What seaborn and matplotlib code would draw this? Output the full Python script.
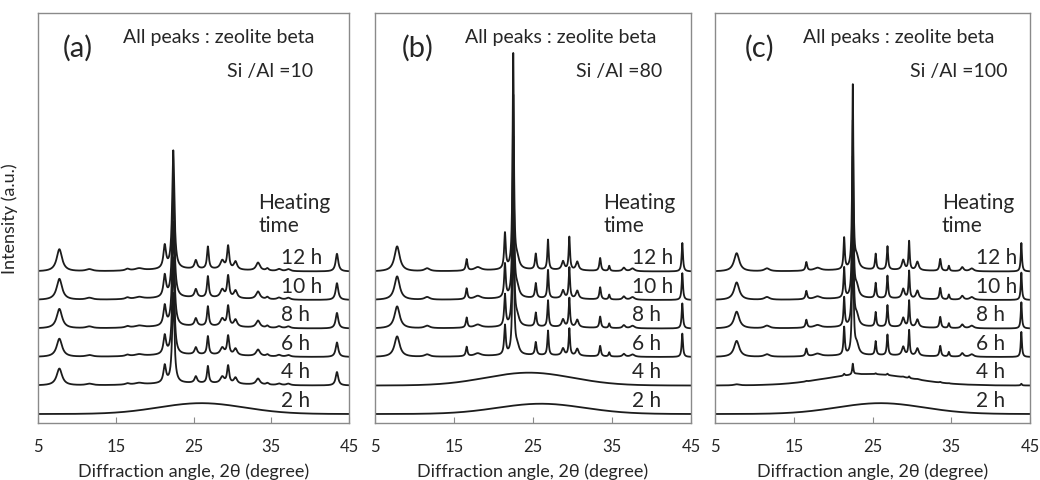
import numpy as np
import pandas as pd
import seaborn as sns
import matplotlib.pyplot as plt

#%% values

times = ["2 h", "4 h", "6 h", "8 h", "10 h", "12 h"]
offsets = [0, 1, 2, 3, 4, 5]

letters = ["(a)", "(b)", "(c)"]
ratios = ["Si /Al =10", "Si /Al =80", "Si /Al =100"]

# zeolite beta reflections: position (deg), height (a.u.), half width (deg)
peaks_a_pos = [7.75, 11.6, 16.5, 18.0, 21.3, 22.4, 25.3, 26.85, 28.7, 29.45, 30.4, 33.3, 34.5, 36.0, 37.2, 43.45]
peaks_a_height = [0.78, 0.07, 0.06, 0.07, 0.8, 4.15, 0.3, 0.78, 0.3, 0.8, 0.28, 0.28, 0.08, 0.07, 0.07, 0.62]
peaks_a_hwhm = [0.42, 0.5, 0.3, 0.6, 0.2, 0.17, 0.2, 0.14, 0.3, 0.16, 0.25, 0.3, 0.2, 0.3, 0.3, 0.2]

peaks_b_pos = [7.8, 11.6, 16.6, 18.0, 21.45, 22.5, 23.0, 25.35, 26.9, 28.8, 29.6, 30.6, 33.5, 34.65, 36.5, 37.6, 43.9]
peaks_b_height = [0.88, 0.1, 0.4, 0.12, 1.25, 7.5, 0.35, 0.55, 1.05, 0.3, 1.15, 0.3, 0.45, 0.18, 0.12, 0.1, 1.0]
peaks_b_hwhm = [0.4, 0.4, 0.12, 0.5, 0.12, 0.1, 0.3, 0.12, 0.1, 0.2, 0.1, 0.2, 0.12, 0.1, 0.2, 0.3, 0.1]

peaks_c_pos = [7.75, 11.6, 16.6, 18.0, 21.4, 22.5, 23.0, 25.4, 26.9, 28.9, 29.65, 30.7, 33.6, 34.7, 36.4, 37.6, 43.9]
peaks_c_height = [0.64, 0.1, 0.3, 0.1, 1.1, 6.4, 0.4, 0.55, 0.82, 0.35, 1.0, 0.3, 0.42, 0.18, 0.14, 0.1, 1.0]
peaks_c_hwhm = [0.4, 0.4, 0.12, 0.5, 0.1, 0.09, 0.3, 0.1, 0.1, 0.2, 0.09, 0.2, 0.12, 0.1, 0.2, 0.3, 0.09]

# how far each run has crystallised (2 h ... 12 h)
cryst_a = [0.0, 0.76, 0.82, 0.88, 0.95, 1.0]
cryst_b = [0.0, 0.0, 0.82, 0.88, 0.94, 1.0]
cryst_c = [0.0, 0.06, 0.88, 0.92, 0.96, 1.0]

# broad amorphous hump: amplitude and centre (deg)
hump_a_amp = [0.38, 0.08, 0.08, 0.08, 0.08, 0.08]
hump_a_center = [26.0, 25.0, 25.0, 25.0, 25.0, 25.0]
hump_b_amp = [0.36, 0.45, 0.06, 0.06, 0.06, 0.06]
hump_b_center = [26.0, 24.5, 25.0, 25.0, 25.0, 25.0]
hump_c_amp = [0.38, 0.4, 0.06, 0.06, 0.06, 0.06]
hump_c_center = [26.0, 24.5, 25.0, 25.0, 25.0, 25.0]

panels = [
    (peaks_a_pos, peaks_a_height, peaks_a_hwhm, cryst_a, hump_a_amp, hump_a_center),
    (peaks_b_pos, peaks_b_height, peaks_b_hwhm, cryst_b, hump_b_amp, hump_b_center),
    (peaks_c_pos, peaks_c_height, peaks_c_hwhm, cryst_c, hump_c_amp, hump_c_center),
]

#%% build traces

two_theta = np.linspace(5, 45, 2401)


def pattern(pos, height, hwhm, cryst, amp, center, offset):
    y = np.full_like(two_theta, float(offset))
    y += amp * np.exp(-0.5 * ((two_theta - center) / 5.5) ** 2)
    for p, h, w in zip(pos, height, hwhm):
        y += cryst * h / (1 + ((two_theta - p) / w) ** 2)
    return y


frames = []
for k, (pos, height, hwhm, cryst, amp, center) in enumerate(panels):
    for i, t in enumerate(times):
        frames.append(pd.DataFrame({
            "panel": k, "time": t,
            "two_theta": two_theta,
            "intensity": pattern(pos, height, hwhm, cryst[i], amp[i], center[i], offsets[i]),
        }))
df = pd.concat(frames, ignore_index=True)

#%% plot

sns.set_theme(style="white")
plt.rcParams["font.family"] = ["Lato", "DejaVu Sans"]

fig = plt.figure(figsize=(10.4, 4.81), dpi=100)
W, H = 1040, 481
boxes = [(38, 349), (375, 691), (715, 1030)]
top_px, bot_px = 14, 424

letter_x = [8.2, 8.4, 8.8]
header_x = [15.9, 16.4, 16.2]
ratio_x = [40.4, 41.4, 42.2]
heating_x = [33.3, 33.9, 33.8]
time_x = [36.3, 37.5, 38.1]

txt = "#262626"
spine = "#8a8a8a"

for k, (x0, x1) in enumerate(boxes):
    ax = fig.add_axes([x0 / W, 1 - bot_px / H, (x1 - x0) / W, (bot_px - top_px) / H])
    sub = df[df["panel"] == k]
    for t in times:
        d = sub[sub["time"] == t]
        sns.lineplot(data=d, x="two_theta", y="intensity", ax=ax,
                     color="#1c1c1c", lw=1.3, estimator=None)

    ax.set_xlim(5, 45)
    ax.set_ylim(-0.316, 14.07)
    ax.set_xticks([5, 15, 25, 35, 45])
    ax.set_yticks([])
    ax.tick_params(axis="x", direction="in", length=4, width=0.8, color=spine,
                   labelsize=12, labelcolor=txt, pad=11, bottom=True)
    for s in ax.spines.values():
        s.set_color(spine)
        s.set_linewidth(1.0)

    ax.set_xlabel("Diffraction angle, 2θ (degree)", fontsize=13, color=txt, labelpad=6)
    if k == 0:
        ax.set_ylabel("Intensity (a.u.)", fontsize=13, color=txt)
        ax.yaxis.set_label_coords(-20 / 311, 0.5)
    else:
        ax.set_ylabel("")

    ax.text(letter_x[k], 12.88, letters[k], fontsize=21, color=txt, va="center", ha="left")
    ax.text(header_x[k], 13.26, "All peaks : zeolite beta", fontsize=14, color=txt,
            va="center", ha="left")
    ax.text(ratio_x[k], 12.04, ratios[k], fontsize=14, color=txt, va="center", ha="right")
    ax.text(heating_x[k], 7.03, "Heating\ntime", fontsize=15, color=txt,
            va="center", ha="left", linespacing=1.15)
    for i, t in enumerate(times):
        ax.text(time_x[k], offsets[i] + 0.5, t, fontsize=15, color=txt,
                va="center", ha="left")

fig.savefig("out.png", dpi=100)
